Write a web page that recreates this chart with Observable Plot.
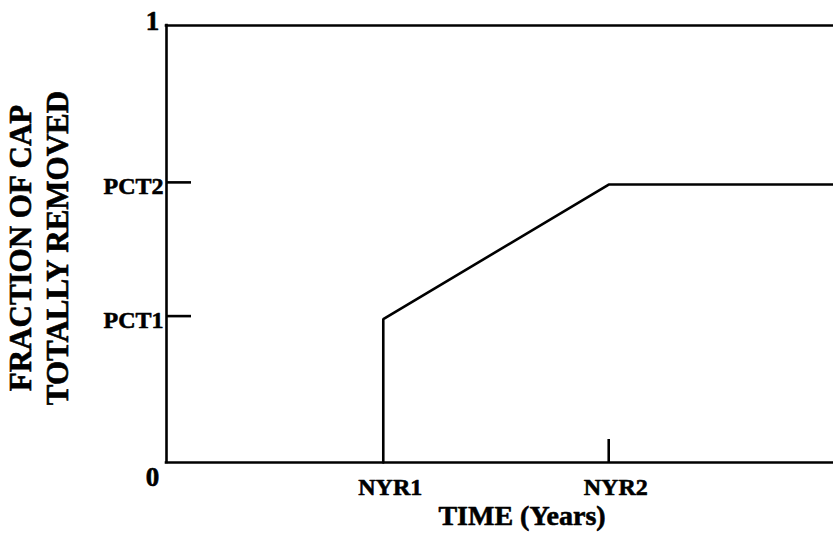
<!DOCTYPE html>
<html>
<head>
<meta charset="utf-8">
<script src="https://cdn.jsdelivr.net/npm/d3@7"></script>
<script src="https://cdn.jsdelivr.net/npm/@observablehq/plot@0.6"></script>
<style>
  html, body { margin: 0; padding: 0; background: #fff; }
  svg { display: block; }
</style>
</head>
<body>
<div id="chart"></div>
<script>
// Schematic: fraction of cap totally removed vs. time
const lineX = [0.325, 0.325, 0.663, 1.0];     // NYR1, NYR1, NYR2, end
const lineY = [0.0, 0.328, 0.636, 0.636];     // 0, PCT1, PCT2, PCT2
const yTickValues = [0.335, 0.641];
const yTickLabels = ["PCT1", "PCT2"];
const yEndValues = [0, 1];
const yEndLabels = ["0", "1"];
const xTickValues = [0.325, 0.663];
const xTickLabels = ["NYR1", "NYR2"];
const yTitle = "FRACTION OF CAP\nTOTALLY REMOVED";
const xTitle = "TIME (Years)";

const points = lineX.map((x, i) => ({x, y: lineY[i]}));
const font = "'Liberation Serif', 'Times New Roman', serif";
const sw = 2.6;
const heavy = {fontWeight: "bold", fill: "#000", stroke: "#000", strokeWidth: 0.6};

const chart = Plot.plot({
  width: 833,
  height: 540,
  marginLeft: 166,
  marginRight: 0,
  marginTop: 25,
  marginBottom: 78,
  style: {fontFamily: font, fontWeight: "bold", color: "#000", background: "#fff"},
  x: {domain: [0, 1], axis: null},
  y: {domain: [0, 1], axis: null},
  marks: [
    // frame lines
    Plot.ruleY(yEndValues, {stroke: "#000", strokeWidth: sw, strokeLinecap: "square"}),
    Plot.ruleX([0], {stroke: "#000", strokeWidth: sw, strokeLinecap: "square"}),
    // inward ticks
    Plot.axisY(yTickValues, {anchor: "left", tickSize: -25, text: null, strokeWidth: sw, label: null}),
    Plot.axisX(xTickValues.slice(1), {anchor: "bottom", tickSize: -23, text: null, strokeWidth: sw, label: null}),
    // data line
    Plot.line(points, {x: "x", y: "y", stroke: "#000", strokeWidth: sw, strokeLinejoin: "miter"}),
    // tick labels
    Plot.text(yTickValues, {y: d => d, text: (d, i) => yTickLabels[i], frameAnchor: "left", textAnchor: "end", dx: -3, dy: 4, fontSize: 24, ...heavy}),
    Plot.text([yEndValues[0]], {y: d => d, text: () => yEndLabels[0], frameAnchor: "left", textAnchor: "middle", dx: -14, dy: 15, fontSize: 27, ...heavy}),
    Plot.text([yEndValues[1]], {y: d => d, text: () => yEndLabels[1], frameAnchor: "left", textAnchor: "middle", dx: -14, dy: -4, fontSize: 27, ...heavy}),
    Plot.text(xTickValues, {x: d => d, text: (d, i) => xTickLabels[i], frameAnchor: "bottom", dx: 7, dy: 32, fontSize: 24, ...heavy}),
    // axis titles
    Plot.text([xTitle], {text: d => d, frameAnchor: "bottom", dx: 22, dy: 62, fontSize: 28, ...heavy}),
    Plot.text([yTitle], {text: d => d, frameAnchor: "left", textAnchor: "middle", rotate: -90, dx: -129, dy: 4, fontSize: 31, lineHeight: 1.19, ...heavy})
  ]
});
document.getElementById("chart").appendChild(chart);
</script>
</body>
</html>
